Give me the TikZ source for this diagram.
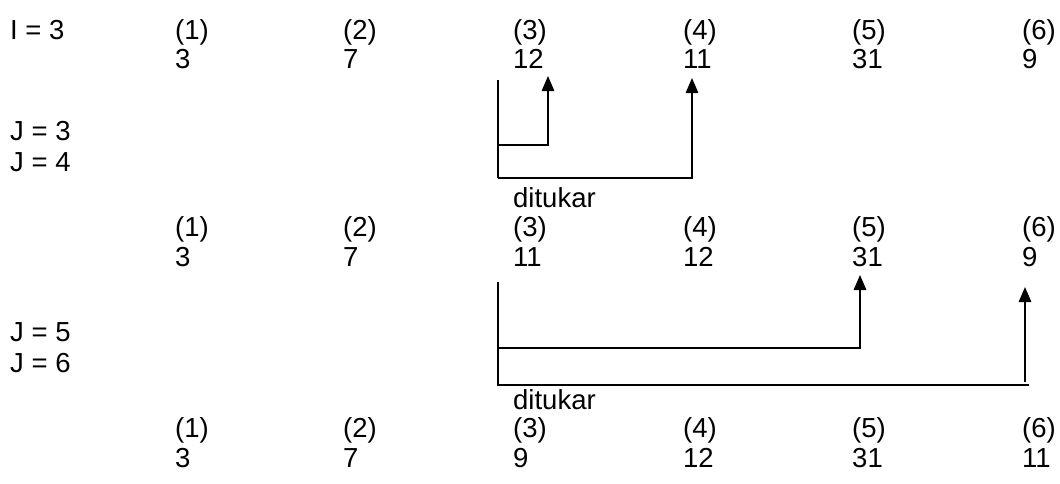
\documentclass[tikz,border=0pt]{standalone}
\usepackage{fontspec}
\setmainfont{Liberation Sans}
\usetikzlibrary{arrows.meta}
\begin{document}
\begin{tikzpicture}[x=1pt,y=-1pt,
  txt/.style={anchor=base west,inner sep=0pt,font=\fontsize{27.5}{32}\selectfont},
  ln/.style={line width=1.5pt},
  arr/.style={ln,-{Triangle[width=12.5pt,length=15pt]}}]
\useasboundingbox (0,0) rectangle (1060,483);
% column x positions
\def\cA{175}\def\cB{343}\def\cC{513}\def\cD{683}\def\cE{852}\def\cF{1022}
% block 1
\node[txt] (i3) at (10,39) {I = 3};
\node[txt] (a1) at (\cA,39) {(1)};
\node[txt] (a2) at (\cB,39) {(2)};
\node[txt] (a3) at (\cC,39) {(3)};
\node[txt] (a4) at (\cD,39) {(4)};
\node[txt] (a5) at (\cE,39) {(5)};
\node[txt] (a6) at (\cF,39) {(6)};
\node[txt] (b1) at (\cA,68) {3};
\node[txt] (b2) at (\cB,68) {7};
\node[txt] (b3) at (\cC,68) {12};
\node[txt] (b4) at (\cD,68) {11};
\node[txt] (b5) at (\cE,68) {31};
\node[txt] (b6) at (\cF,68) {9};
\node[txt] (j3) at (10,140) {J = 3};
\node[txt] (j4) at (10,171) {J = 4};
\node[txt] (dt1) at (\cC,207) {ditukar};
% block 2
\node[txt] (c1) at (\cA,236) {(1)};
\node[txt] (c2) at (\cB,236) {(2)};
\node[txt] (c3) at (\cC,236) {(3)};
\node[txt] (c4) at (\cD,236) {(4)};
\node[txt] (c5) at (\cE,236) {(5)};
\node[txt] (c6) at (\cF,236) {(6)};
\node[txt] (d1) at (\cA,266) {3};
\node[txt] (d2) at (\cB,266) {7};
\node[txt] (d3) at (\cC,266) {11};
\node[txt] (d4) at (\cD,266) {12};
\node[txt] (d5) at (\cE,266) {31};
\node[txt] (d6) at (\cF,266) {9};
\node[txt] (j5) at (10,341) {J = 5};
\node[txt] (j6) at (10,372) {J = 6};
\node[txt] (dt2) at (\cC,409) {ditukar};
% block 3
\node[txt] (e1) at (\cA,437) {(1)};
\node[txt] (e2) at (\cB,437) {(2)};
\node[txt] (e3) at (\cC,437) {(3)};
\node[txt] (e4) at (\cD,437) {(4)};
\node[txt] (e5) at (\cE,437) {(5)};
\node[txt] (e6) at (\cF,437) {(6)};
\node[txt] (f1) at (\cA,467) {3};
\node[txt] (f2) at (\cB,467) {7};
\node[txt] (f3) at (\cC,467) {9};
\node[txt] (f4) at (\cD,467) {12};
\node[txt] (f5) at (\cE,467) {31};
\node[txt] (f6) at (\cF,467) {11};
% connectors group 1
\coordinate (g1top) at (498,80);
\coordinate (g1mid) at (498,145);
\coordinate (g1bot) at (498,178);
\coordinate (g1m) at (548,145);
\coordinate (g1mt) at (548,76);
\coordinate (g1b) at (692,178);
\coordinate (g1bt) at (692,78);
\draw[ln] (g1top) -- (g1bot);
\draw[arr] (g1mid) -- (g1m) -- (g1mt);
\draw[arr] (g1bot) -- (g1b) -- (g1bt);
% connectors group 2
\coordinate (g2top) at (498,282);
\coordinate (g2mid) at (498,348);
\coordinate (g2bot) at (498,385);
\coordinate (g2m) at (860,348);
\coordinate (g2mt) at (860,275);
\coordinate (g2b) at (1029,385);
\coordinate (g2a) at (1025,382);
\coordinate (g2at) at (1025,287);
\draw[ln] (g2top) -- (g2bot) -- (g2b);
\draw[arr] (g2mid) -- (g2m) -- (g2mt);
\draw[arr] (g2a) -- (g2at);
\end{tikzpicture}
\end{document}
